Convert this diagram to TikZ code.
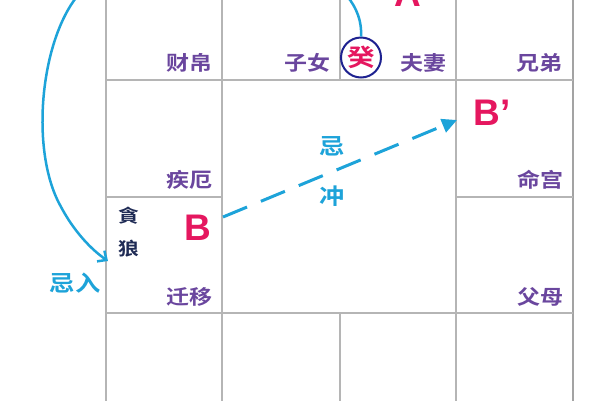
\documentclass[tikz,border=0pt]{standalone}
\usepackage{fontspec}
\newfontfamily\cjkb[FakeStretch=1.15]{Noto Sans CJK SC Bold}
\newfontfamily\latinb{Liberation Sans Bold}
\usetikzlibrary{arrows.meta}
\definecolor{gridgray}{HTML}{B5B5B5}
\definecolor{palacepurple}{HTML}{6A469E}
\definecolor{jicyan}{HTML}{1DA3D9}
\definecolor{hotpink}{HTML}{E5175F}
\definecolor{navyink}{HTML}{1F2B55}
\definecolor{ringblue}{HTML}{1E2290}
\begin{document}
\begin{tikzpicture}[x=1pt,y=-1pt,
  gridline/.style={draw=gridgray,line width=2.2pt},
  palace/.style={font=\cjkb\fontsize{20}{24}\selectfont,text=palacepurple,inner sep=0pt},
  cyantext/.style={font=\cjkb\fontsize{22}{26}\selectfont,text=jicyan,inner sep=0pt},
  bigletter/.style={font=\latinb\fontsize{37}{40}\selectfont,text=hotpink,inner sep=0pt,anchor=base},
  starname/.style={font=\cjkb\fontsize{18}{20}\selectfont,text=navyink,inner sep=0pt},
  jiline/.style={draw=jicyan,line width=3pt}]
\useasboundingbox[fill=white] (0,0) rectangle (600,400);
% grid
\draw[gridline] (106,-10) -- (106,410);
\draw[gridline] (222,-10) -- (222,410);
\draw[gridline] (456,-10) -- (456,410);
\draw[gridline,line width=2.6pt,draw=gridgray!90!black] (573,-10) -- (573,410);
\draw[gridline] (340,-10) -- (340,80);
\draw[gridline] (340,313) -- (340,410);
\draw[gridline] (106,80) -- (573,80);
\draw[gridline] (106,197) -- (222,197);
\draw[gridline] (456,197) -- (573,197);
\draw[gridline] (106,313) -- (573,313);
% palace names
\node[palace] (caibo) at (189,63) {财帛};
\node[palace] (zinv) at (307,63) {子女};
\node[palace] (fuqi) at (423,63) {夫妻};
\node[palace] (xiongdi) at (539,63) {兄弟};
\node[palace] (jie) at (189,180) {疾厄};
\node[palace] (minggong) at (540,180) {命宫};
\node[palace] (qianyi) at (189,297) {迁移};
\node[palace] (fumu) at (540,297) {父母};
% gui ring
\node[draw=ringblue,line width=2pt,circle,minimum size=40pt,inner sep=0pt,
      font=\cjkb\fontsize{24}{28}\selectfont,text=hotpink] (gui) at (361,57.5) {癸};
\coordinate (topin) at (347,-4);
\draw[jiline,line width=2.5pt] (topin) .. controls (357,8) and (362,22) .. (gui.north);
% letters
\node[bigletter] (A) at (408,6) {A};
\node[bigletter] (B) at (198,240) {B};
\node[bigletter] (Bp) at (492,125) {B’};
% star
\node[starname] (tan) at (129,216) {貪};
\node[starname] (lang) at (129,249) {狼};
% left curve into 迁移
\coordinate (leftin) at (79,-6);
\coordinate (entry) at (108,261);
\draw[jiline,line width=2.5pt,-{Straight Barb[length=7pt,width=13pt,line width=2.5pt]}]
  (leftin) .. controls (40,40) and (30,150) .. (60,205) .. controls (74,232) and (92,250) .. (entry);
\node[cyantext] (jiru) at (75,283) {忌入};
% dashed 忌冲 arrow
\coordinate (chongstart) at (223,217);
\coordinate (chongend) at (457,120);
\draw[jiline,dash pattern=on 26pt off 15pt,-{Triangle[length=15pt,width=14pt]}] (chongstart) -- (chongend);
\node[cyantext] (ji) at (332,146) {忌};
\node[cyantext] (chong) at (332,196) {冲};
\end{tikzpicture}
\end{document}
